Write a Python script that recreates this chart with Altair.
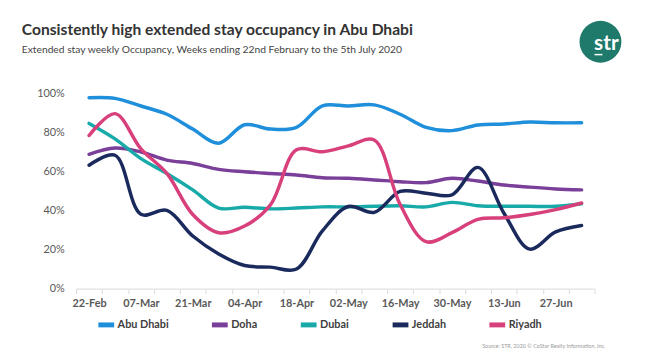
import altair as alt
import pandas as pd

weeks = ["22-Feb", "29-Feb", "07-Mar", "14-Mar", "21-Mar", "28-Mar", "04-Apr", "11-Apr",
         "18-Apr", "25-Apr", "02-May", "09-May", "16-May", "23-May", "30-May", "06-Jun",
         "13-Jun", "20-Jun", "27-Jun", "04-Jul"]

cities = ["Abu Dhabi", "Doha", "Dubai", "Jeddah", "Riyadh"]
colors = ["#1f8fdb", "#7a3f98", "#18aaa8", "#1b2a5c", "#d8407b"]

abu_dhabi = [97.6, 97.3, 93.4, 89.2, 81.6, 74.4, 83.8, 81.6, 82.5, 93.5,
             93.4, 94.0, 89.2, 82.5, 80.8, 83.7, 84.2, 85.2, 84.8, 84.8]
doha = [68.7, 71.9, 69.9, 65.7, 64.0, 61.0, 59.8, 58.9, 58.1, 56.7,
        56.4, 55.6, 54.7, 54.2, 56.4, 55.0, 53.0, 51.9, 51.0, 50.5]
dubai = [84.5, 76.6, 66.5, 58.9, 50.5, 41.2, 41.6, 40.8, 41.2, 41.8,
         41.8, 42.1, 42.4, 41.8, 44.1, 42.4, 42.1, 42.1, 42.1, 43.4]
jeddah = [63.1, 68.2, 38.0, 40.0, 26.9, 17.7, 11.8, 11.0, 10.0, 29.5,
          42.0, 39.0, 49.7, 48.8, 48.0, 62.0, 38.7, 20.2, 29.0, 32.3]
riyadh = [78.3, 89.5, 71.5, 58.9, 37.9, 28.6, 32.0, 42.9, 71.0, 70.0,
          73.0, 76.0, 43.0, 24.0, 28.6, 35.4, 36.2, 37.9, 40.4, 43.8]

title_text = "Consistently high extended stay occupancy in Abu Dhabi"
subtitle_text = "Extended stay weekly Occupancy, Weeks ending 22nd February to the 5th July 2020"
source_text = "Source: STR, 2020 \u00a9 CoStar Realty Information, Inc."

series = [abu_dhabi, doha, dubai, jeddah, riyadh]
rows = []
for city, vals in zip(cities, series):
    for i, v in enumerate(vals):
        rows.append({"idx": i, "week": weeks[i], "city": city, "occ": v / 100.0})
df = pd.DataFrame(rows)

labels_js = "[" + ",".join("'%s'" % w for w in weeks) + "]"
tick_values = [-0.5 + 0.5 * k for k in range(41)]

FONT = "Lato"

lines = alt.Chart(df).mark_line(interpolate="catmull-rom", strokeWidth=3.5, strokeCap="round").encode(
    x=alt.X("idx:Q",
            scale=alt.Scale(domain=[-0.5, 19.5], nice=False, zero=False),
            axis=alt.Axis(values=tick_values, title=None, grid=False,
                          labelExpr="datum.value % 2 == 0 ? " + labels_js + "[datum.value] : ''",
                          tickOpacity={"condition": {"test": "datum.value % 1 != 0", "value": 1}, "value": 0},
                          tickColor="#d9d9d9", tickSize=5, domainColor="#d9d9d9",
                          labelFont=FONT, labelFontSize=11, labelFontWeight="bold",
                          labelColor="#595959", labelPadding=4, labelFlush=False,
                          labelOverlap=False)),
    y=alt.Y("occ:Q",
            scale=alt.Scale(domain=[0, 1], nice=False),
            axis=alt.Axis(values=[0, 0.2, 0.4, 0.6, 0.8, 1.0], format=".0%", title=None,
                          grid=False, domain=False, ticks=False, labelPadding=12,
                          labelFont=FONT, labelFontSize=11, labelColor="#595959")),
    color=alt.Color("city:N", sort=cities,
                    scale=alt.Scale(domain=cities, range=colors),
                    legend=alt.Legend(title=None, orient="none", direction="horizontal",
                                      legendX=20, legendY=224, symbolType="stroke",
                                      symbolSize=256, symbolStrokeWidth=5,
                                      labelFont=FONT, labelFontSize=11, labelFontWeight="bold",
                                      labelColor="#404040", labelOffset=1, columnPadding=33,
                                      padding=0))
)

one = pd.DataFrame({"t": [title_text], "s": [subtitle_text], "src": [source_text], "logo": ["str"]})

title = alt.Chart(one).mark_text(color="#333333", font=FONT, fontSize=15.8, fontWeight="bold",
                                 align="left", baseline="alphabetic").encode(
    x=alt.value(-55), y=alt.value(-59), text="t:N")
subtitle = alt.Chart(one).mark_text(color="#444444", font=FONT, fontSize=10.4, align="left",
                                    baseline="alphabetic").encode(
    x=alt.value(-55), y=alt.value(-41), text="s:N")

logo_circle = alt.Chart(one).mark_point(filled=True, shape="circle", opacity=1, color="#1f7a6c", size=1800).encode(
    x=alt.value(531), y=alt.value(-52))
logo_text = alt.Chart(one).mark_text(color="white", font=FONT, fontSize=21, fontWeight="bold",
                                     align="center", baseline="alphabetic").encode(
    x=alt.value(537), y=alt.value(-44), text="logo:N")
logo_ul = alt.Chart(one).mark_rule(color="white", strokeWidth=1.5).encode(
    x=alt.value(525), x2=alt.value(533), y=alt.value(-39))

source = alt.Chart(one).mark_text(color="#9a9a9a", font=FONT, fontSize=5.5, align="right",
                                  baseline="middle").encode(
    x=alt.value(536), y=alt.value(256), text="src:N")

chart = alt.layer(lines, title, subtitle, logo_circle, logo_text, logo_ul, source).properties(
    width=525, height=198,
    autosize=alt.AutoSizeParams(type="none"),
    padding={"left": 69, "top": 84, "right": 43, "bottom": 62},
).configure_view(stroke=None)

chart.save("out.html", embed_options={"renderer": "svg", "actions": False})
